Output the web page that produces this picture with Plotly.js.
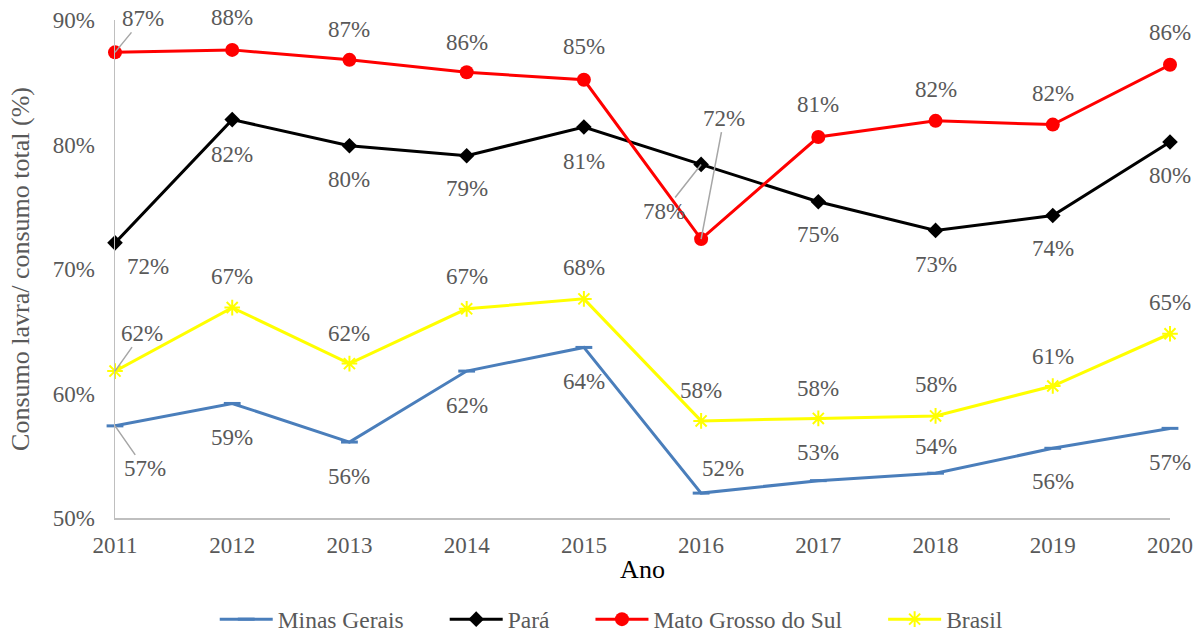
<!DOCTYPE html>
<html>
<head>
<meta charset="utf-8">
<script src="https://cdn.plot.ly/plotly-3.0.1.min.js"></script>
<style>html,body{margin:0;padding:0;background:#fff;}#chart{width:1203px;height:632px;}</style>
</head>
<body>
<div id="chart"></div>
<script>
// ---- data ----
const years = [2011, 2012, 2013, 2014, 2015, 2016, 2017, 2018, 2019, 2020];
const minasGerais = [0.574, 0.592, 0.561, 0.618, 0.637, 0.520, 0.530, 0.536, 0.556, 0.572];
const para = [0.721, 0.820, 0.799, 0.791, 0.814, 0.784, 0.754, 0.731, 0.743, 0.802];
const matoGrossoDoSul = [0.874, 0.876, 0.868, 0.858, 0.852, 0.724, 0.806, 0.819, 0.816, 0.864];
const brasil = [0.618, 0.669, 0.624, 0.668, 0.676, 0.578, 0.580, 0.582, 0.606, 0.648];
const seriesNames = ['Minas Gerais', 'Pará', 'Mato Grosso do Sul', 'Brasil'];
const yTickVals = [0.5, 0.6, 0.7, 0.8, 0.9];
const yTickText = ['50%', '60%', '70%', '80%', '90%'];

// ---- style ----
const FONT = 'Liberation Serif';
const GREY = '#595959';
const FS = 23;
const TFS = 26;
const series = [
  {name: seriesNames[0], y: minasGerais, color: '#4a7ebb', marker: {symbol: 'line-ew', size: 12, line: {color: '#4a7ebb', width: 3}}},
  {name: seriesNames[1], y: para, color: '#000000', marker: {symbol: 'diamond', size: 12, color: '#000000'}},
  {name: seriesNames[2], y: matoGrossoDoSul, color: '#ff0000', marker: {symbol: 'circle', size: 14, color: '#ff0000'}},
  {name: seriesNames[3], y: brasil, color: '#ffff00', marker: {symbol: 'asterisk-open', size: 13, line: {color: '#ffff00', width: 2}}}
];
// label offsets per series, per point: [dx, dy(px, up positive), leader]
const labelOffsets = [
  [[30,-43,1],[0,-34],[0,-34],[0,-34],[0,-34],[22,25],[0,28],[0,27],[0,-33],[0,-34]],
  [[33,-24],[0,-35],[0,-34],[0,-33],[0,-34],[-37,-47,1],[0,-33],[0,-34],[0,-33],[0,-33]],
  [[28,34,1],[0,32],[0,30],[0,30],[0,33],[23,121,1],[0,33],[0,31],[0,31],[0,32]],
  [[27,38,1],[0,31],[0,30],[0,32],[0,31],[0,30],[0,30],[0,31],[0,30],[0,31]]
];
// legend geometry (px)
const LEG = {lineLen: 53, textGap: 5, entryGap: 46, centerX: 611};

const traces = series.map(s => ({
  type: 'scatter', mode: 'lines+markers', x: years, y: s.y, name: s.name,
  line: {color: s.color, width: 3}, marker: s.marker, cliponaxis: false
}));

const annotations = [];
series.forEach((s, si) => {
  s.y.forEach((v, i) => {
    const o = labelOffsets[si][i];
    const txt = Math.round(v * 100) + '%';
    if (o[2]) {
      annotations.push({x: years[i], y: v, xref: 'x', yref: 'y', text: txt, showarrow: true,
        arrowhead: 0, arrowwidth: 1.5, arrowcolor: '#a6a6a6', ax: o[0], ay: -o[1], standoff: 0,
        font: {family: FONT, size: FS, color: GREY}});
    } else {
      annotations.push({x: years[i], y: v, xref: 'x', yref: 'y', text: txt, showarrow: false,
        xshift: o[0], yshift: o[1], font: {family: FONT, size: FS, color: GREY}});
    }
  });
});

const layout = {
  width: 1203, height: 632,
  margin: {l: 115, r: 33, t: 20, b: 114},
  paper_bgcolor: '#ffffff', plot_bgcolor: '#ffffff',
  font: {family: FONT, color: GREY, size: FS},
  showlegend: true,
  legend: {orientation: 'h', x: 0.5, xref: 'container', xanchor: 'center', y: 0.02, yref: 'container', yanchor: 'middle',
    font: {family: FONT, size: 23.5, color: GREY}, itemwidth: 30, tracegroupgap: 0},
  xaxis: {range: [2011, 2020], tickvals: years, ticktext: years.map(String), showgrid: false, zeroline: false,
    automargin: false,
    showline: true, linecolor: '#bfbfbf', linewidth: 1.5, ticks: '', ticklabelstandoff: 6,
    tickfont: {family: FONT, size: FS, color: GREY},
    title: {text: 'Ano', font: {family: FONT, size: TFS, color: '#000000'}, standoff: 2}},
  yaxis: {range: [0.5, 0.9], tickvals: yTickVals, ticktext: yTickText, showgrid: false, zeroline: false,
    automargin: false,
    showline: true, linecolor: '#bfbfbf', linewidth: 1.5, ticks: '', ticklabelstandoff: 14,
    tickfont: {family: FONT, size: FS, color: GREY},
    title: {text: 'Consumo lavra/ consumo total (%)', font: {family: FONT, size: TFS, color: GREY}, standoff: 15}},
  annotations: annotations
};

Plotly.newPlot('chart', traces, layout, {displayModeBar: false, staticPlot: true}).then(gd => {
  // lengthen legend sample lines and re-space entries
  const legend = gd.querySelector('g.legend');
  if (!legend) return;
  const scroll = legend.querySelector('.scrollbox');
  if (scroll) scroll.removeAttribute('clip-path');
  const bg = legend.querySelector('rect.bg');
  if (bg) bg.setAttribute('width', 0);
  const items = legend.querySelectorAll('g.traces');
  let cursor = 0;
  items.forEach(g => {
    const tr = g.getAttribute('transform') || '';
    const m = tr.match(/translate\(\s*([-\d.]+)[ ,]+([-\d.]+)\s*\)/);
    const y = m ? parseFloat(m[2]) : 0;
    g.setAttribute('transform', `translate(${cursor},${y})`);
    g.querySelectorAll('path.js-line').forEach(p => p.setAttribute('d', `M0,0h${LEG.lineLen}`));
    g.querySelectorAll('.legendpoints path').forEach(p => {
      p.setAttribute('transform', `translate(${LEG.lineLen / 2},0)`);
    });
    const t = g.querySelector('text.legendtext');
    let w = 0;
    if (t) {
      t.setAttribute('x', LEG.lineLen + LEG.textGap);
      w = t.getComputedTextLength();
    }
    cursor += LEG.lineLen + LEG.textGap + w + LEG.entryGap;
  });
  const total = cursor - LEG.entryGap;
  const ltr = legend.getAttribute('transform') || '';
  const lm = ltr.match(/translate\(\s*([-\d.]+)[ ,]+([-\d.]+)\s*\)/);
  const ly = lm ? parseFloat(lm[2]) : 0;
  legend.setAttribute('transform', `translate(${LEG.centerX - total / 2},${ly})`);
});
</script>
</body>
</html>
